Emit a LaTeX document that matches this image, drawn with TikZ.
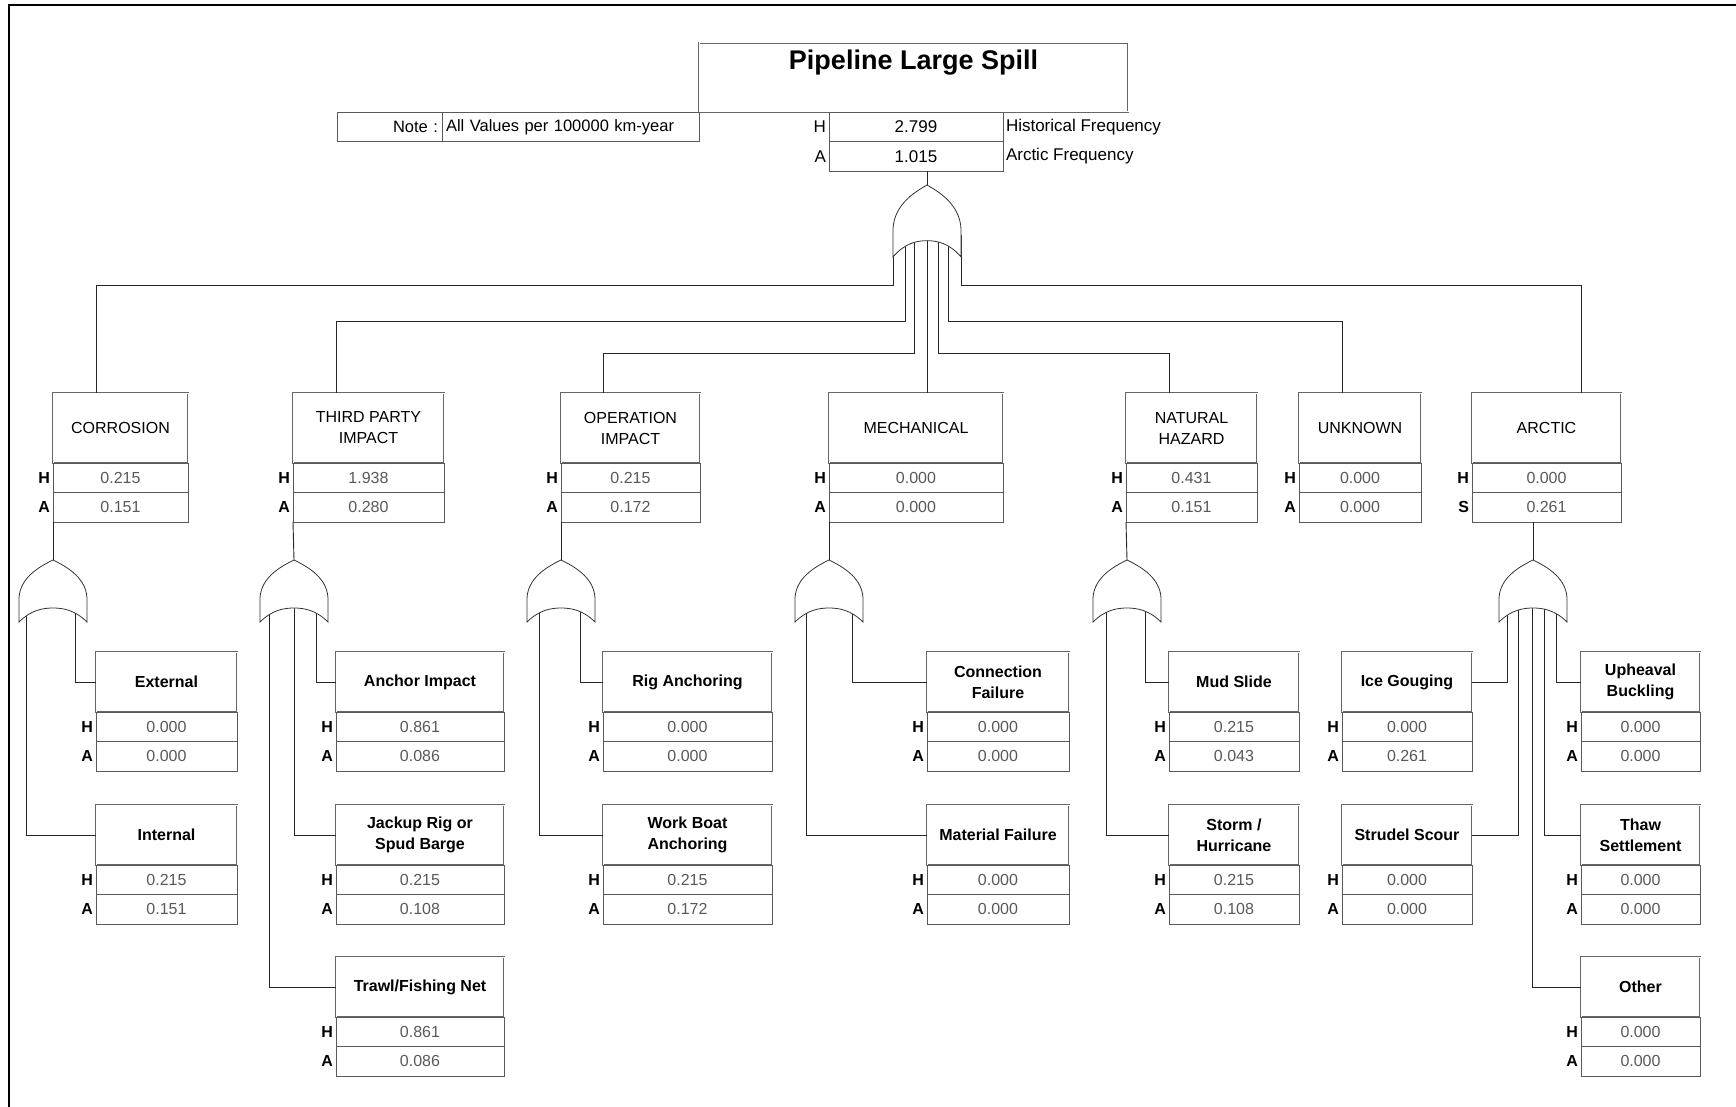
\documentclass[tikz,border=0pt]{standalone}
\usepackage{fontspec}
\setmainfont{Liberation Sans}

\tikzset{
  every node/.style={inner sep=0pt, outer sep=0pt},
  evtitle/.style={draw=black!60, double, double distance=1pt, line width=0.7pt, fill=white,
    align=center, minimum height=70pt, font=\fontsize{16}{21}\selectfont},
  subtitle/.style={evtitle, minimum height=60pt, font=\fontsize{16}{21}\selectfont\bfseries},
  valrow/.style={draw=black!65, line width=0.8pt, fill=white, minimum height=29.5pt,
    text=black!65, font=\fontsize{16}{20}\selectfont},
  topval/.style={valrow, text=black, minimum width=174pt, font=\fontsize{17}{20}\selectfont},
  notecell/.style={draw=black!65, line width=0.8pt, inner xsep=4pt, minimum height=29.5pt,
    font=\fontsize{16.5}{20}\selectfont},
  rowlab/.style={anchor=east, xshift=-3pt, font=\fontsize{16}{20}\selectfont\bfseries},
  wire/.style={line width=0.9pt, black!85},
  gate/.style={draw=black!80, line width=0.8pt, fill=white},
  orgate/.pic={
    \draw[gate] (0,0) .. controls (-10,5) and (-33,16) .. (-34,38) -- (-34,62)
      .. controls (-22,50) and (-10,48) .. (0,48) .. controls (10,48) and (22,50) .. (34,62)
      -- (34,38) .. controls (33,16) and (10,5) .. (0,0) -- cycle;
    \coordinate (-apex) at (0,0);
  }
}

% event box with its two value rows
\newcommand{\faultbox}[9]{%
  \node[#5, minimum width=#4pt, anchor=north west] (#1) at (#2,#3) {#6};
  \node[valrow, minimum width=#4pt, anchor=north west] (#1-h) at (#1.south west) {#7};
  \node[valrow, minimum width=#4pt, anchor=north west] (#1-a) at (#1-h.south west) {#8};
  \node[rowlab] (#1-hl) at (#1-h.west) {H};
  \node[rowlab] (#1-al) at (#1-a.west) {#9};
}

\begin{document}
\begin{tikzpicture}[x=1pt, y=-1pt]
  \useasboundingbox (0,0) rectangle (1736,1107);
  \draw[line width=2pt] (9,1107) -- (9,5) -- (1736,5);

  % top event
  \node[evtitle, minimum width=429pt, minimum height=69pt, anchor=north west] (spill) at (699,43) {};
  \node[anchor=north, font=\fontsize{27}{30}\selectfont\bfseries] (spilltxt) at ([yshift=-7pt]spill.north) {Pipeline Large Spill};
  \node[topval, anchor=north west] (spill-h) at (829,112) {2.799};
  \node[topval, anchor=north west] (spill-a) at (spill-h.south west) {1.015};
  \node[rowlab, font=\fontsize{17}{20}\selectfont] (spill-hl) at (spill-h.west) {H};
  \node[rowlab, font=\fontsize{17}{20}\selectfont] (spill-al) at (spill-a.west) {A};
  \node[anchor=west, xshift=3pt, font=\fontsize{17}{20}\selectfont] (histlab) at (spill-h.east) {Historical Frequency};
  \node[anchor=west, xshift=3pt, font=\fontsize{17}{20}\selectfont] (arclab) at (spill-a.east) {Arctic Frequency};

  % note
  \node[notecell, text width=97pt, align=right, anchor=north west] (notekey) at (337,112) {Note :};
  \node[notecell, text width=249pt, align=left, anchor=north west] (noteval) at (notekey.north east) {All Values per 100000 km-year};

  % first level
  \faultbox{corr}{53}{393}{135}{evtitle}{CORROSION}{0.215}{0.151}{A}
  \faultbox{third}{293}{393}{151}{evtitle}{THIRD PARTY\\IMPACT}{1.938}{0.280}{A}
  \faultbox{oper}{561}{393}{139}{evtitle}{OPERATION\\IMPACT}{0.215}{0.172}{A}
  \faultbox{mech}{829}{393}{174}{evtitle}{MECHANICAL}{0.000}{0.000}{A}
  \faultbox{natur}{1126}{393}{131}{evtitle}{NATURAL\\HAZARD}{0.431}{0.151}{A}
  \faultbox{unkn}{1299}{393}{122}{evtitle}{UNKNOWN}{0.000}{0.000}{A}
  \faultbox{arct}{1472}{393}{149}{evtitle}{ARCTIC}{0.000}{0.261}{S}

  % second level
  \faultbox{ext}{96}{652}{141}{subtitle}{External}{0.000}{0.000}{A}
  \faultbox{int}{96}{805}{141}{subtitle}{Internal}{0.215}{0.151}{A}
  \faultbox{anch}{336}{652}{168}{subtitle}{Anchor Impact}{0.861}{0.086}{A}
  \faultbox{jack}{336}{805}{168}{subtitle}{Jackup Rig or\\Spud Barge}{0.215}{0.108}{A}
  \faultbox{trawl}{336}{957}{168}{subtitle}{Trawl/Fishing Net}{0.861}{0.086}{A}
  \faultbox{rig}{603}{652}{169}{subtitle}{Rig Anchoring}{0.000}{0.000}{A}
  \faultbox{boat}{603}{805}{169}{subtitle}{Work Boat\\Anchoring}{0.215}{0.172}{A}
  \faultbox{conn}{927}{652}{142}{subtitle}{Connection\\Failure}{0.000}{0.000}{A}
  \faultbox{matl}{927}{805}{142}{subtitle}{Material Failure}{0.000}{0.000}{A}
  \faultbox{mud}{1169}{652}{130}{subtitle}{Mud Slide}{0.215}{0.043}{A}
  \faultbox{storm}{1169}{805}{130}{subtitle}{Storm /\\Hurricane}{0.215}{0.108}{A}
  \faultbox{ice}{1342}{652}{130}{subtitle}{Ice Gouging}{0.000}{0.261}{A}
  \faultbox{strud}{1342}{805}{130}{subtitle}{Strudel Scour}{0.000}{0.000}{A}
  \faultbox{upheav}{1581}{652}{119}{subtitle}{Upheaval\\Buckling}{0.000}{0.000}{A}
  \faultbox{thaw}{1581}{805}{119}{subtitle}{Thaw\\Settlement}{0.000}{0.000}{A}
  \faultbox{other}{1581}{957}{119}{subtitle}{Other}{0.000}{0.000}{A}

  % top gate inputs and knees
  \foreach \n/\x in {1/893,2/905,3/914,4/927,5/938,6/948,7/961}
    \coordinate (g0-in\n) at (\x,235);
  \coordinate (corr-knee) at (96,285);
  \coordinate (third-knee) at (336,321);
  \coordinate (oper-knee) at (603,353);
  \coordinate (natur-knee) at (1169,353);
  \coordinate (unkn-knee) at (1342,321);
  \coordinate (arct-knee) at (1581,285);

  \draw[wire] (g0-in1) |- (corr-knee) -- (corr-knee |- corr.north);
  \draw[wire] (g0-in2) |- (third-knee) -- (third-knee |- third.north);
  \draw[wire] (g0-in3) |- (oper-knee) -- (oper-knee |- oper.north);
  \draw[wire] (g0-in4) -- (g0-in4 |- mech.north);
  \draw[wire] (g0-in5) |- (natur-knee) -- (natur-knee |- natur.north);
  \draw[wire] (g0-in6) |- (unkn-knee) -- (unkn-knee |- unkn.north);
  \draw[wire] (g0-in7) |- (arct-knee) -- (arct-knee |- arct.north);

  % sub gate inputs
  \foreach \g/\x in {corr1/26, corr2/75, third1/269, third2/294, third3/316, oper1/539, oper2/580,
      mech1/806, mech2/852, natur1/1106, natur2/1145, arct1/1507, arct2/1518, arct3/1532,
      arct4/1544, arct5/1556}
    \coordinate (in-\g) at (\x,600);

  \draw[wire] (ext.west) -| (in-corr2);
  \draw[wire] (int.west) -| (in-corr1);
  \draw[wire] (anch.west) -| (in-third3);
  \draw[wire] (jack.west) -| (in-third2);
  \draw[wire] (trawl.west) -| (in-third1);
  \draw[wire] (rig.west) -| (in-oper2);
  \draw[wire] (boat.west) -| (in-oper1);
  \draw[wire] (conn.west) -| (in-mech2);
  \draw[wire] (matl.west) -| (in-mech1);
  \draw[wire] (mud.west) -| (in-natur2);
  \draw[wire] (storm.west) -| (in-natur1);
  \draw[wire] (ice.east) -| (in-arct1);
  \draw[wire] (strud.east) -| (in-arct2);
  \draw[wire] (other.west) -| (in-arct3);
  \draw[wire] (thaw.west) -| (in-arct4);
  \draw[wire] (upheav.west) -| (in-arct5);

  % gates
  \pic[yscale=1.16] (g0) at (927,185) {orgate};
  \pic (gcorr) at (53,560) {orgate};
  \pic (gthird) at (294,560) {orgate};
  \pic (goper) at (561,560) {orgate};
  \pic (gmech) at (829,560) {orgate};
  \pic (gnatur) at (1127,560) {orgate};
  \pic (garct) at (1533,560) {orgate};

  \draw[wire] (spill-a.south -| g0-apex) -- (g0-apex);
  \draw[wire] (corr-a.south west) -- (gcorr-apex);
  \draw[wire] (third-a.south west) -- (gthird-apex);
  \draw[wire] (oper-a.south west) -- (goper-apex);
  \draw[wire] (mech-a.south west) -- (gmech-apex);
  \draw[wire] (natur-a.south west) -- (gnatur-apex);
  \draw[wire] (arct-a.south -| garct-apex) -- (garct-apex);
\end{tikzpicture}
\end{document}
